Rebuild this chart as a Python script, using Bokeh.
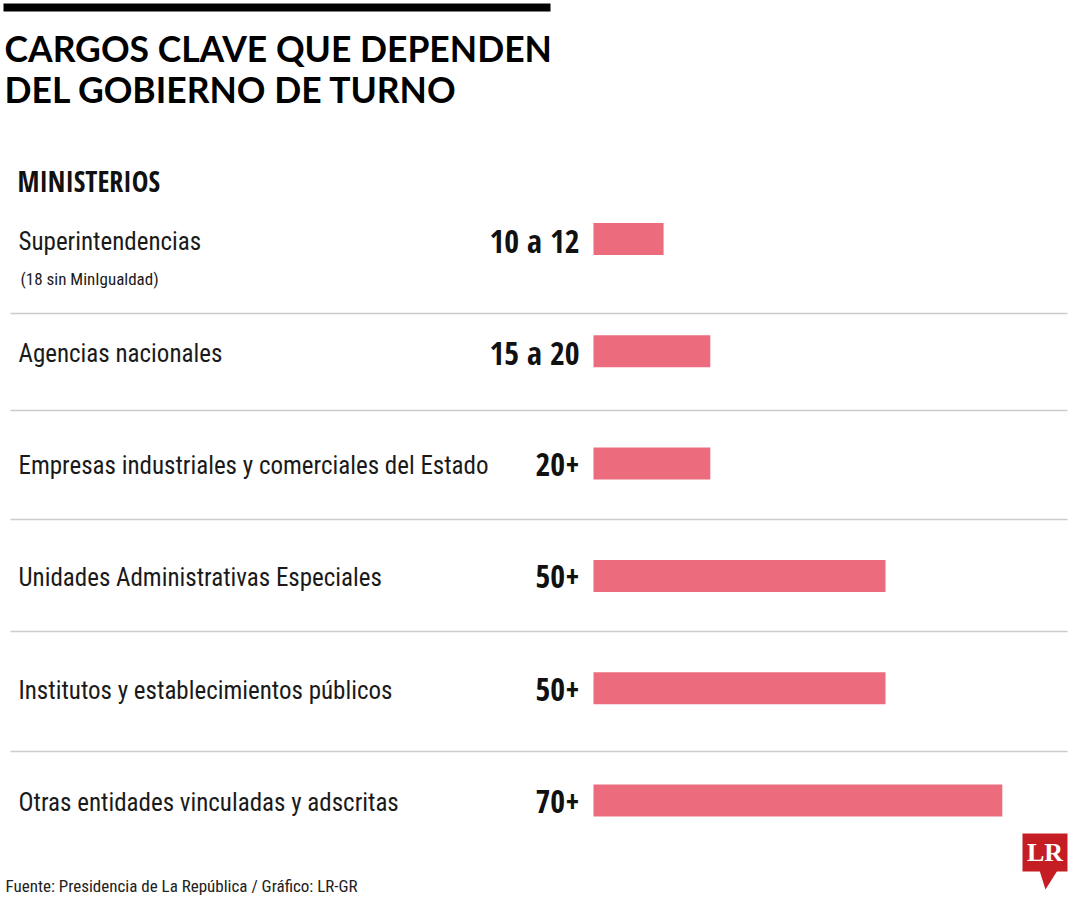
from bokeh.plotting import figure
from bokeh.models import Range1d, ColumnDataSource
from bokeh.core.properties import value
from bokeh.embed import file_html
from bokeh.resources import INLINE

# ---- data ----
categories = [
    "Superintendencias",
    "Agencias nacionales",
    "Empresas industriales y comerciales del Estado",
    "Unidades Administrativas Especiales",
    "Institutos y establecimientos públicos",
    "Otras entidades vinculadas y adscritas",
]
values = [12, 20, 20, 50, 50, 70]
value_labels = ["10 a 12", "15 a 20", "20+", "50+", "50+", "70+"]
notes = ["(18 sin MinIgualdad)", "", "", "", "", ""]

title_lines = ["CARGOS CLAVE QUE DEPENDEN", "DEL GOBIERNO DE TURNO"]
section = "MINISTERIOS"
source_text = "Fuente: Presidencia de La República  / Gráfico: LR-GR"

# ---- layout ----
W, H = 1080, 900
BAR_X0 = 593          # pixel where bars start
PX_PER_UNIT = 5.84
ROW0 = 238.5
ROW_STEP = 112.3
BAR_H_PX = 32
SEP_Y = [313, 410, 519, 631, 751]

COND = "Roboto Condensed"
COND_BOLD = "Open Sans Condensed"
BAR_COLOR = "#EC6C7E"
LOGO_RED = "#C41E24"

p = figure(width=W, height=H, output_backend="svg", toolbar_location=None,
           x_range=Range1d(0, W), y_range=Range1d(H, 0), min_border=0)
p.axis.visible = False
p.grid.visible = False
p.outline_line_color = None
p.background_fill_color = "white"
p.border_fill_color = "white"

p.extra_x_ranges["val"] = Range1d(-BAR_X0 / PX_PER_UNIT, (W - BAR_X0) / PX_PER_UNIT)
p.extra_y_ranges["row"] = Range1d((H - ROW0) / ROW_STEP, -ROW0 / ROW_STEP)

rows = list(range(len(categories)))
src = ColumnDataSource(dict(row=rows, val=values, cat=categories,
                            vlab=value_labels, note=notes))

# top black bar
p.quad(left=[3], right=[550], top=[3], bottom=[11], fill_color="black", line_color=None)

# bars
p.hbar(y="row", left=0, right="val", height=BAR_H_PX / ROW_STEP, source=src,
       fill_color=BAR_COLOR, line_color=None,
       x_range_name="val", y_range_name="row")

# category labels
p.text(x=18, y="row", text="cat", source=src,
       y_range_name="row", text_font=value(COND), text_font_size="25px",
       text_color="#1a1a1a", text_baseline="middle", text_align="left",
       y_offset=2)

# value labels
p.text(x=0, y="row", text="vlab", source=src, x_range_name="val",
       y_range_name="row", text_font=value(COND_BOLD), text_font_size="32px",
       text_font_style="bold", text_color="#111111", text_baseline="middle",
       text_align="right", x_offset=-14, y_offset=1)

# notes
p.text(x=20, y="row", text="note", source=src, y_range_name="row",
       text_font=value(COND), text_font_size="17px", text_color="#1a1a1a",
       text_baseline="middle", text_align="left", y_offset=40)

# separators
p.segment(x0=10, x1=1067, y0=SEP_Y, y1=SEP_Y, line_color="#cccccc", line_width=1.5)

# title
p.text(x=[4, 4], y=[48, 89], text=title_lines, text_font=value("Lato"),
       text_font_size="35.5px", text_font_style="bold", text_color="black",
       text_baseline="middle", text_align="left")

# section header
p.text(x=[17], y=[180], text=[section], text_font=value(COND_BOLD),
       text_font_size="28px", text_font_style="bold", text_color="#111111",
       text_baseline="middle", text_align="left")

# source
p.text(x=[5], y=[885], text=[source_text], text_font=value(COND),
       text_font_size="17px", text_color="#222222",
       text_baseline="middle", text_align="left")

# LR logo
p.quad(left=[1022], right=[1067], top=[833], bottom=[871],
       fill_color=LOGO_RED, line_color=None)
p.patch(x=[1039, 1057, 1045], y=[870, 870, 889], fill_color=LOGO_RED, line_color=None)
p.text(x=[1044.5], y=[852], text=["LR"], text_font=value("Liberation Serif"),
       text_font_size="26px", text_font_style="bold", text_color="white",
       text_align="center", text_baseline="middle")

open("out.html", "w").write(file_html(p, INLINE))
